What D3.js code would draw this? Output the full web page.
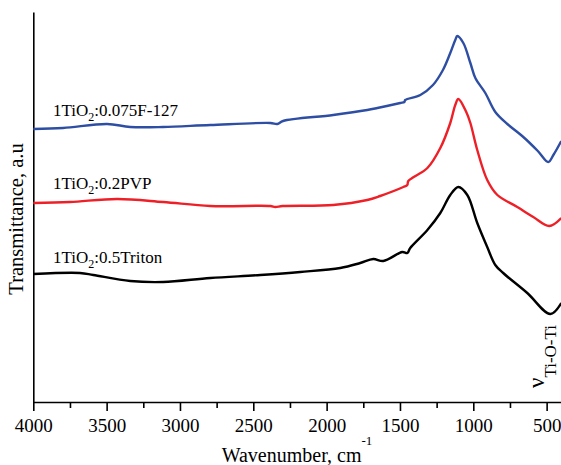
<!DOCTYPE html>
<html>
<head>
<meta charset="utf-8">
<script src="https://cdn.jsdelivr.net/npm/d3@7"></script>
<style>
  body { margin: 0; background: #fff; }
  svg text { font-family: "Liberation Serif", "Times New Roman", serif; fill: #000; }
</style>
</head>
<body>
<svg id="chart" width="561" height="465"></svg>
<script>
// wavenumbers (cm-1) and transmittance (a.u.)
var wnF127 = [4000, 3797, 3497, 3339, 3115, 2793, 2384, 2336, 2297, 1955, 1723, 1654, 1498, 1470, 1464, 1361, 1275, 1207, 1157, 1123, 1109, 1068, 1020, 986, 918, 850, 768, 659, 560, 489, 454, 400];
var tF127  = [273, 274, 278, 275, 275, 277, 279, 278, 281, 287, 292, 294, 299, 300, 302, 307, 317, 332, 349, 362, 366, 359, 339, 324, 309, 290, 278, 265, 251, 240, 247, 261];

var wnPVP = [4000, 3750, 3428, 3115, 2793, 2384, 2350, 2300, 1955, 1723, 1635, 1477, 1450, 1443, 1313, 1225, 1157, 1123, 1102, 1048, 1020, 973, 905, 836, 700, 591, 482, 400];
var tPVP  = [199, 200, 203, 200, 196, 196, 195, 196, 197, 202, 206, 215, 217, 221, 234, 254, 279, 297, 303, 290, 279, 252, 222, 207, 195, 185, 176, 184];

var wnTriton = [4000, 3682, 3591, 3339, 3115, 2793, 2452, 2180, 1907, 1771, 1682, 1614, 1484, 1450, 1430, 1313, 1225, 1157, 1102, 1041, 973, 905, 850, 796, 632, 475, 400];
var tTriton  = [128, 129, 127, 121, 120, 124, 127, 130, 134, 139, 143, 141, 150, 149, 154, 172, 189, 207, 215, 207, 179, 155, 137, 129, 109, 88, 99];

var series = [
  { name: "0.075F-127", wn: wnF127, t: tF127, color: "#2d4ea3", labelY: 116 },
  { name: "0.2PVP", wn: wnPVP, t: tPVP, color: "#ee1f26", labelY: 189 },
  { name: "0.5Triton", wn: wnTriton, t: tTriton, color: "#000000", labelY: 263 }
];

var majorTicks = [4000, 3500, 3000, 2500, 2000, 1500, 1000, 500];
var minorTicks = [3750, 3250, 2750, 2250, 1750, 1250, 750];

var svg = d3.select("#chart");

var x = d3.scaleLinear().domain([4000, 400]).range([33.3, 561.3]);
var y = d3.scaleLinear().domain([0, 390]).range([402, 12]);

// axes
svg.append("g")
  .attr("transform", "translate(0,402)")
  .call(d3.axisBottom(x).tickValues(minorTicks).tickSize(6).tickFormat("").tickSizeOuter(0))
  .call(function(g) { g.select(".domain").remove(); })
  .selectAll("line").attr("stroke-width", 1.6);

var xAxis = svg.append("g")
  .attr("transform", "translate(0,402)")
  .call(d3.axisBottom(x).tickValues(majorTicks).tickFormat(d3.format("d"))
    .tickSize(9).tickPadding(8).tickSizeOuter(0));
xAxis.attr("font-family", null).attr("font-size", null);
xAxis.select(".domain").attr("stroke-width", 1.6);
xAxis.selectAll("line").attr("stroke-width", 1.6);
xAxis.selectAll("text").style("font-size", "19px");

var yAxis = svg.append("g")
  .attr("transform", "translate(33.3,0)")
  .call(d3.axisLeft(y).tickValues([]).tickSizeOuter(0));
yAxis.select(".domain").attr("stroke-width", 1.6);

// spectra
for (var i = 0; i < series.length; i++) {
  var s = series[i];
  var pts = s.wn.map(function(w, k) { return [w, s.t[k]]; });
  var line = d3.line()
    .x(function(d) { return x(d[0]); })
    .y(function(d) { return y(d[1]); })
    .curve(d3.curveCatmullRom.alpha(0.5));
  svg.append("path")
    .datum(pts)
    .attr("d", line)
    .attr("fill", "none")
    .attr("stroke", s.color)
    .attr("stroke-width", 2.4)
    .attr("stroke-linejoin", "round");

  var lab = svg.append("text")
    .attr("x", 53)
    .attr("y", s.labelY)
    .style("font-size", "17px");
  lab.append("tspan").text("1TiO");
  lab.append("tspan").style("font-size", "12px").attr("dy", 5).text("2");
  lab.append("tspan").attr("dy", -5).text(":" + s.name);
}

// axis titles
var xt = svg.append("text")
  .attr("x", 297)
  .attr("y", 462)
  .attr("text-anchor", "middle")
  .style("font-size", "20px");
xt.append("tspan").text("Wavenumber, cm");
xt.append("tspan").style("font-size", "13px").attr("dy", -17).text("-1");

svg.append("text")
  .attr("transform", "translate(23,219) rotate(-90)")
  .attr("text-anchor", "middle")
  .style("font-size", "20.5px")
  .text("Transmittance, a.u");

// band label
var nu = svg.append("text")
  .attr("transform", "translate(544,388) rotate(-90)")
  .style("font-size", "23px");
nu.append("tspan").text("ν");
nu.append("tspan").style("font-size", "17px").attr("dy", 12).text("Ti-O-Ti");
</script>
</body>
</html>
